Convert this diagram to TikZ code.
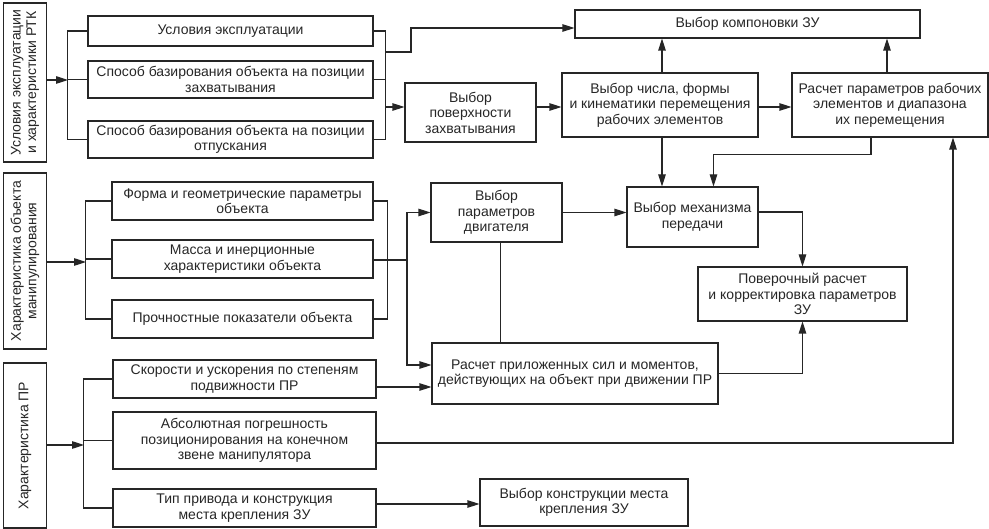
\documentclass[tikz,border=0pt]{standalone}
\usepackage{fontspec}
\setmainfont{Liberation Sans}
\usetikzlibrary{arrows.meta}

\tikzset{
  blk/.style={draw, align=center, inner sep=0pt,
    font=\fontsize{14}{15.5}\selectfont},
}

\begin{document}
\begin{tikzpicture}[x=1pt, y=-1pt, color=black!85, line width=1.1pt,
    >={Triangle[length=12pt,width=7.5pt]}]
  \useasboundingbox (0,0) rectangle (989,529);
  % left column
  \node[blk,rotate=90,minimum width=159,minimum height=43] (rtk) at (25,82.5)
    {Условия эксплуатации\\и характеристики РТК};
  \node[blk,rotate=90,minimum width=176,minimum height=43] (obj) at (25,261)
    {Характеристика объекта\\манипулирования};
  \node[blk,rotate=90,minimum width=165,minimum height=43] (pr) at (25,445.5)
    {Характеристика ПР};
  % inputs
  \node[blk,minimum width=285,minimum height=30] (expl) at (230.5,31)
    {Условия эксплуатации};
  \node[blk,minimum width=285,minimum height=37] (grip) at (230.5,79.5)
    {Способ базирования объекта на позиции\\захватывания};
  \node[blk,minimum width=285,minimum height=37] (rel) at (230.5,139.5)
    {Способ базирования объекта на позиции\\отпускания};
  \node[blk,minimum width=261,minimum height=38] (shape) at (242.5,201)
    {Форма и геометрические параметры\\объекта};
  \node[blk,minimum width=261,minimum height=38] (mass) at (242.5,259)
    {Масса и инерционные\\характеристики объекта};
  \node[blk,minimum width=261,minimum height=38] (strength) at (242.5,319)
    {Прочностные показатели объекта};
  \node[blk,minimum width=263,minimum height=38] (speed) at (244.5,379)
    {Скорости и ускорения по степеням\\подвижности ПР};
  \node[blk,minimum width=263,minimum height=57] (acc) at (244.5,440.5)
    {Абсолютная погрешность\\позиционирования на конечном\\звене манипулятора};
  \node[blk,minimum width=263,minimum height=38] (drive) at (244.5,508)
    {Тип привода и конструкция\\места крепления ЗУ};
  % design steps
  \node[blk,minimum width=345,minimum height=28] (layout) at (747.5,24)
    {Выбор компоновки ЗУ};
  \node[blk,minimum width=131,minimum height=59] (surf) at (470.5,112.5)
    {Выбор\\поверхности\\захватывания};
  \node[blk,minimum width=196,minimum height=64] (kin) at (660,105)
    {Выбор числа, формы\\и кинематики перемещения\\рабочих элементов};
  \node[blk,minimum width=196,minimum height=64] (range) at (890,105)
    {Расчет параметров рабочих\\элементов и диапазона\\их перемещения};
  \node[blk,minimum width=131,minimum height=59] (motor) at (496.5,212.5)
    {Выбор\\параметров\\двигателя};
  \node[blk,minimum width=131,minimum height=60] (gear) at (692.5,217)
    {Выбор механизма\\передачи};
  \node[blk,minimum width=209,minimum height=54] (check) at (802.5,294)
    {Поверочный расчет\\и корректировка параметров\\ЗУ};
  \node[blk,minimum width=286,minimum height=61] (force) at (575,373.5)
    {Расчет приложенных сил и моментов,\\действующих на объект при движении ПР};
  \node[blk,minimum width=208,minimum height=47] (mount) at (584,502.5)
    {Выбор конструкции места\\крепления ЗУ};

  % bus points
  \coordinate (busA) at (68,80);
  \coordinate (jA1) at (385,52);
  \coordinate (jA2) at (385,107);
  \coordinate (busB) at (86,262);
  \coordinate (jB) at (407,260);
  \coordinate (busC) at (84,445);

  % first group
  \draw[->] (rtk.south |- busA) -- (busA);
  \draw (expl.west) -- ++(-20,0) |- (rel.west);
  \draw (grip.west) -- (grip.west -| busA);
  \draw (expl.east) -- ++(12,0) |- (rel.east);
  \draw (grip.east) -- (grip.east -| jA1);
  \draw[->] (jA1) -- ++(26,0) |- ([yshift=-4]layout.west);
  \draw[->] (jA2) -- (surf.west |- jA2);
  \draw[->] (surf.east |- jA2) -- (kin.west |- jA2);
  \draw[->] (kin.east |- jA2) -- (range.west |- jA2);
  \draw[->] ([xshift=2]kin.north) -- ([xshift=2]kin.north |- layout.south);
  \draw[->] ([xshift=-3]range.north) -- ([xshift=-3]range.north |- layout.south);
  \draw[->] ([xshift=2]kin.south) -- ([xshift=2]kin.south |- gear.north);
  \draw[->] ([xshift=-19]range.south) -- ++(0,17) -| ([xshift=21]gear.north);

  % second group
  \draw[->] (obj.south |- busB) -- (busB);
  \draw (shape.west) -- ++(-26,0) |- (strength.west);
  \draw (mass.west) -- (mass.west -| busB);
  \draw (shape.east) -- ++(14,0) |- (strength.east);
  \draw (mass.east |- jB) -- (jB);
  \draw[->] (jB) |- (motor.west);
  \draw[->] (jB) |- ([yshift=8.5]force.west);
  \draw[->] (motor.east) -- (motor.east -| gear.west);
  \draw ([xshift=4]motor.south) -- ([xshift=4]motor.south |- force.north);
  \draw[->] ([yshift=5]gear.east) -| (check.north);
  \draw[->] (force.east) -| (check.south);

  % third group
  \draw[->] (pr.south |- busC) -- (busC);
  \draw (speed.west) -- ++(-29,0) |- (drive.west);
  \draw (acc.west) -- (acc.west -| busC);
  \draw[->] ([yshift=-8]speed.east) -- ([yshift=-8]speed.east -| force.west);
  \draw[->] ([yshift=-2.5]acc.east) -| ([xshift=63]range.south);
  \draw[->] ([yshift=4]drive.east) -- ([yshift=4]drive.east -| mount.west);
\end{tikzpicture}
\end{document}
